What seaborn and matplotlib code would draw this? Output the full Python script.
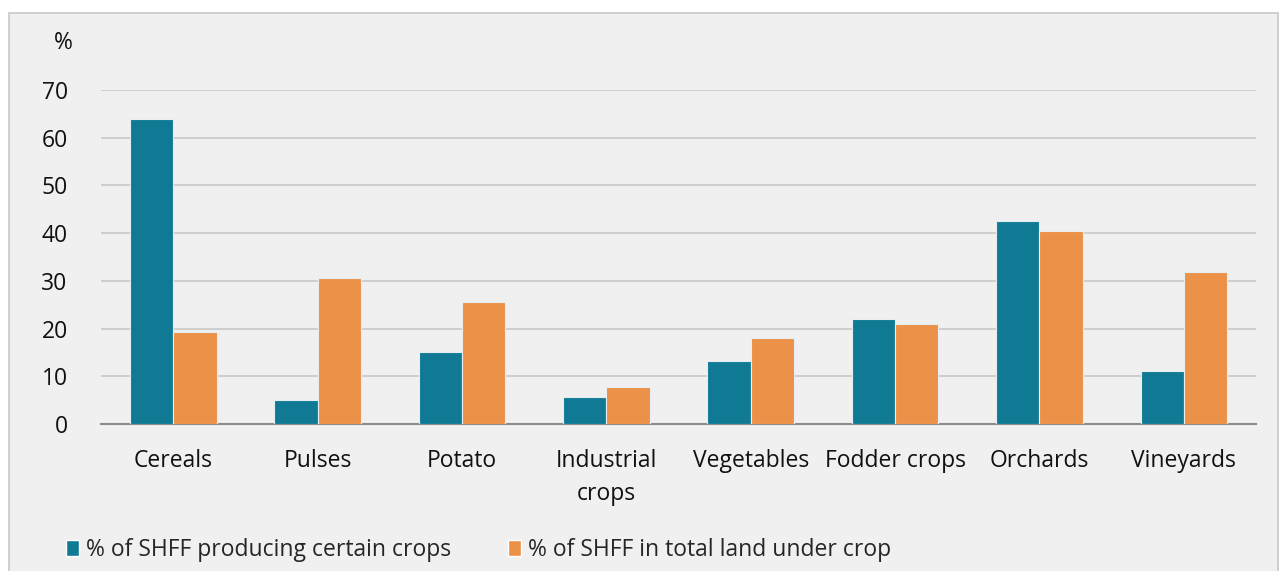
import matplotlib
matplotlib.use('Agg')
import matplotlib.pyplot as plt
import matplotlib.patches as mpatches
import seaborn as sns
import pandas as pd

crops = ['Cereals', 'Pulses', 'Potato', 'Industrial\ncrops', 'Vegetables',
         'Fodder crops', 'Orchards', 'Vineyards']
producing = [64.0, 5.0, 15.1, 5.7, 13.2, 22.0, 42.6, 11.1]
land_share = [19.3, 30.6, 25.6, 7.8, 18.0, 21.0, 40.5, 31.9]
series = ['% of SHFF producing certain crops', '% of SHFF in total land under crop']
colors = ['#107A95', '#EB9148']
yticks = [0, 10, 20, 30, 40, 50, 60, 70]

df = pd.DataFrame({
    'crop': crops * 2,
    'value': producing + land_share,
    'series': [series[0]] * len(crops) + [series[1]] * len(crops),
})

sns.set_theme(style='white')
plt.rcParams['font.family'] = ['Open Sans', 'DejaVu Sans']

bg = '#F0F0F0'
fig = plt.figure(figsize=(12.82, 5.71), dpi=100, facecolor='white')
# grey panel with thin border, as in the source
fig.patches.append(mpatches.Rectangle((9 / 1282, -0.05), (1278 - 9) / 1282, 1 - 13 / 571 + 0.05,
                                      transform=fig.transFigure, facecolor=bg,
                                      edgecolor='#C8C8C8', linewidth=1.2, zorder=-5))

ax = fig.add_axes([101 / 1282, 1 - 424 / 571, (1256 - 101) / 1282, (424 - 90) / 571])
ax.set_zorder(2)
ax.set_facecolor('none')

sns.barplot(data=df, x='crop', y='value', hue='series', palette=colors,
            width=0.6, gap=0, saturation=1, ax=ax, legend=False, zorder=3,
            edgecolor='#E6EEF0', linewidth=0.8)

ax.set_ylim(0, 70)
ax.set_xlim(-0.5, len(crops) - 0.5)
ax.set_yticks(yticks)
ax.yaxis.grid(True, color='#C8C8C8', linewidth=1.2, zorder=0)
ax.set_axisbelow(True)
for s in ['top', 'right', 'left']:
    ax.spines[s].set_visible(False)
ax.spines['bottom'].set_color('#8C8C8C')
ax.spines['bottom'].set_linewidth(1.5)
ax.tick_params(axis='both', length=0, labelsize=16.5, colors='#111111')
ax.tick_params(axis='y', pad=24)
ax.tick_params(axis='x', pad=18)
for lbl in ax.get_xticklabels():
    lbl.set_linespacing(1.5)
ax.set_xlabel('')
ax.set_ylabel('')

fig.text(63 / 1282, 1 - 43 / 571, '%', fontsize=16.5, ha='center', va='center', color='#111111')

handles = [mpatches.Patch(facecolor=c, label=l) for c, l in zip(colors, series)]
fig.legend(handles=handles, loc='center left', bbox_to_anchor=(57 / 1282, 1 - 550 / 571),
           ncol=2, frameon=False, fontsize=16.5, handlelength=0.55, handleheight=0.75,
           handletextpad=0.3, columnspacing=2.5, borderaxespad=0)

fig.savefig('out.png', dpi=100, facecolor='white')
